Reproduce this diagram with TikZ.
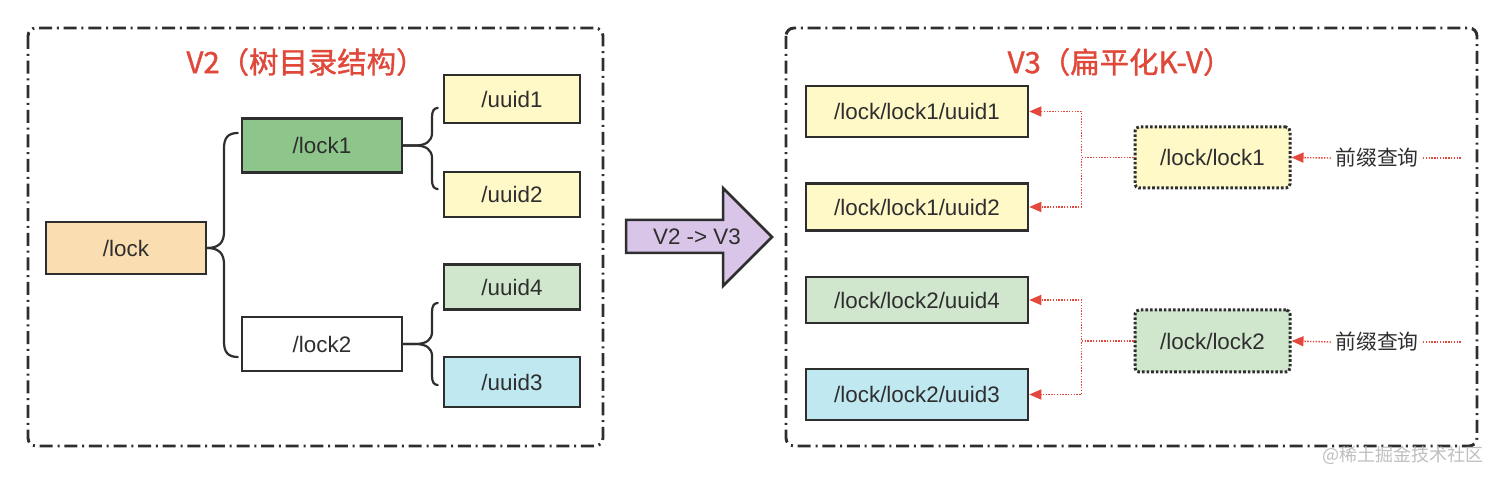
\documentclass[tikz,border=0pt]{standalone}
\usepackage{fontspec}
\setmainfont{Liberation Sans}
\newfontfamily\cjk{Noto Sans CJK SC}
\newfontfamily\cjkt[FakeBold=1.2]{Noto Sans CJK SC}
\usetikzlibrary{arrows.meta,calc}
\definecolor{ink}{HTML}{2E2E2E}
\definecolor{titlered}{HTML}{E0483A}
\definecolor{arrred}{HTML}{E4473C}
\definecolor{peach}{HTML}{FADDB1}
\definecolor{midgreen}{HTML}{8DC58A}
\definecolor{paleyellow}{HTML}{FFF9C8}
\definecolor{palegreen}{HTML}{D0E7CE}
\definecolor{paleblue}{HTML}{BFE8F1}
\definecolor{lilac}{HTML}{D9C5E8}
\tikzset{
  frame/.style={draw=ink, line width=1.45pt, rounded corners=4pt,
    dash pattern=on 6.5pt off 2.4pt on 1pt off 2.4pt},
  box/.style={draw=ink, line width=1.25pt, inner sep=0pt, text=ink,
    font=\fontsize{11.2}{13}\selectfont},
  dotbox/.style={draw=ink, line width=1.5pt, inner sep=0pt, text=ink,
    rounded corners=2pt, dash pattern=on 1.3pt off 1.0pt,
    font=\fontsize{11.2}{13}\selectfont},
  brace/.style={draw=ink, line width=1.1pt, line cap=round},
  reddot/.style={draw=arrred, line width=0.7pt, dash pattern=on 0.7pt off 0.7pt},
  redtip/.style={-{Triangle[length=6pt,width=5pt,fill=arrred]}},
  title/.style={text=titlered, font=\cjkt\fontsize{14.7}{16}\selectfont},
  query/.style={text=ink, inner sep=2pt, font=\cjk\fontsize{10.4}{12}\selectfont}
}
\begin{document}
\begin{tikzpicture}[x=0.5pt,y=-0.5pt]
\useasboundingbox (0,0) rectangle (1500,480);
\fill[white] (0,0) rectangle (1500,480);

% frames
\draw[frame] (28,28) rectangle (603,446);
\draw[frame] (786,28) rectangle (1477,446);

% titles
\node[title] (t2) at (306,62) {V2（树目录结构）};
\node[title] (t3) at (1120,62) {V3（扁平化K-V）};

% left tree
\node[box, fill=peach, minimum width=80pt, minimum height=26pt] (lock) at (126,248) {/lock};
\node[box, fill=midgreen, minimum width=80pt, minimum height=27pt] (lock1) at (322,145.5) {/lock1};
\node[box, fill=white, minimum width=80pt, minimum height=27pt] (lock2) at (322,344) {/lock2};
\node[box, fill=paleyellow, minimum width=68pt, minimum height=24pt] (u1) at (512,99) {/uuid1};
\node[box, fill=paleyellow, minimum width=68pt, minimum height=22.5pt] (u2) at (512,194.5) {/uuid2};
\node[box, fill=palegreen, minimum width=68pt, minimum height=22.5pt] (u4) at (512,287) {/uuid4};
\node[box, fill=paleblue, minimum width=68pt, minimum height=25pt] (u3) at (512,382) {/uuid3};

% braces
\draw[brace] (lock.east) .. controls ($(lock.east)+(12,0)$) and (224,242) .. (224,232)
  -- (224,148) .. controls (224,138) and (228,133) .. ($(lock1.west)+(-3,-12.5)$);
\draw[brace] (lock.east) .. controls ($(lock.east)+(12,0)$) and (224,254) .. (224,264)
  -- (224,342) .. controls (224,352) and (228,357) .. ($(lock2.west)+(-3,13)$);
\draw[brace] (lock1.east) -- ++(12,0) .. controls (426,145.5) and (432,141) .. (432,133)
  -- (432,117) .. controls (432,111) and (434,108) .. ($(u1.west)+(-5,9)$);
\draw[brace] (lock1.east) -- ++(12,0) .. controls (426,145.5) and (432,150) .. (432,158)
  -- (432,180) .. controls (432,186) and (434,189) .. ($(u2.west)+(-5,-5.5)$);
\draw[brace] (lock2.east) -- ++(12,0) .. controls (426,344) and (432,340) .. (432,332)
  -- (432,312) .. controls (432,306) and (434,303) .. ($(u4.west)+(-5,16)$);
\draw[brace] (lock2.east) -- ++(12,0) .. controls (426,344) and (432,348) .. (432,356)
  -- (432,376) .. controls (432,382) and (434,385) .. ($(u3.west)+(-5,3)$);

% big arrow
\draw[fill=lilac, draw=ink, line width=1.25pt, line join=miter]
  (626,220) -- (723,220) -- (723,188) -- (772,237) -- (723,286) -- (723,253) -- (626,253) -- cycle;
\node[text=ink, font=\fontsize{11.2}{13}\selectfont] (conv) at (697,237) {V2 -> V3};

% right side
\node[box, fill=paleyellow, minimum width=111pt, minimum height=25.5pt] (r1) at (917,111.5) {/lock/lock1/uuid1};
\node[box, fill=paleyellow, minimum width=111pt, minimum height=23.5pt] (r2) at (917,207) {/lock/lock1/uuid2};
\node[box, fill=palegreen, minimum width=111pt, minimum height=23pt] (r4) at (917,300) {/lock/lock2/uuid4};
\node[box, fill=paleblue, minimum width=111pt, minimum height=25.5pt] (r3) at (917,394.5) {/lock/lock2/uuid3};

\node[dotbox, fill=paleyellow, minimum width=77.5pt, minimum height=30.5pt] (d1) at (1212.5,157.5) {/lock/lock1};
\node[dotbox, fill=palegreen, minimum width=77.5pt, minimum height=31pt] (d2) at (1212.5,341) {/lock/lock2};

\node[query] (q1) at (1377,158) {前缀查询};
\node[query] (q2) at (1377,342) {前缀查询};
\coordinate (e1) at (1462,158);
\coordinate (e2) at (1462,342);

\draw[reddot, redtip] (d1.west) -- ++(-52,0) |- (r1.east);
\draw[reddot, redtip] (d1.west) -- ++(-52,0) |- (r2.east);
\draw[reddot, redtip] (d2.west) -- ++(-52,0) |- (r4.east);
\draw[reddot, redtip] (d2.west) -- ++(-52,0) |- (r3.east);
\draw[reddot, redtip] (q1.west) -- (d1.east);
\draw[reddot, redtip] (q2.west) -- (d2.east);
\draw[reddot] (q1.east) -- (e1);
\draw[reddot] (q2.east) -- (e2);

% watermark
\node[text=black!25, font=\cjk\fontsize{9}{10}\selectfont] (wm) at (1403,455) {@稀土掘金技术社区};
\end{tikzpicture}
\end{document}
